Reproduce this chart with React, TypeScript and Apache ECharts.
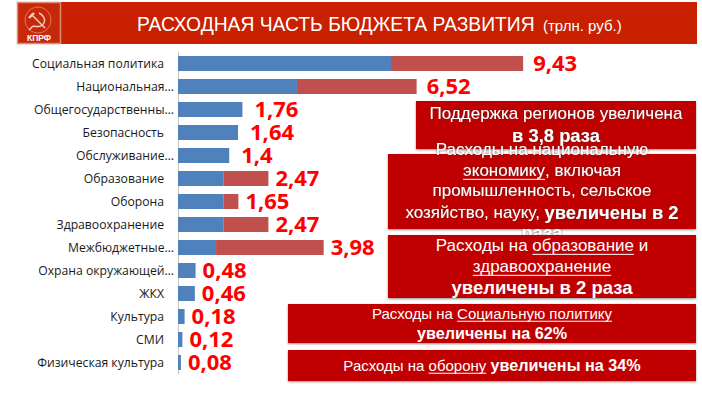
import React, { useEffect, useRef } from "react";
import * as echarts from "echarts";

const categories = ["Социальная политика","Национальная…","Общегосударственны…","Безопасность","Обслуживание…","Образование","Оборона","Здравоохранение","Межбюджетные…","Охрана окружающей…","ЖКХ","Культура","СМИ","Физическая культура"];
const totals = [9.43,6.52,1.76,1.64,1.4,2.47,1.65,2.47,3.98,0.48,0.46,0.18,0.12,0.08];
const blue = [5.82,3.25,1.76,1.64,1.4,1.25,1.25,1.25,1.04,0.48,0.46,0.18,0.12,0.08];
const red = [3.61,3.27,0,0,0,1.22,0.4,1.22,2.94,0,0,0,0,0];
const titleMain = "РАСХОДНАЯ ЧАСТЬ БЮДЖЕТА РАЗВИТИЯ";
const titleUnit = "(трлн. руб.)";

type Seg = { t: string; b?: boolean; u?: boolean };
const sans = "'Liberation Sans', Arial, sans-serif";
const boxes: { x: number; y: number; w: number; h: number; cx: number; size: number; bold: number; shadow?: boolean; lines: [number, Seg[]][] }[] = [
  { x: 416, y: 101, w: 280, h: 48, cx: 556, size: 17, bold: 18.4, shadow: true, lines: [
    [113, [{ t: "Поддержка регионов увеличена" }]],
    [135, [{ t: "в 3,8 раза", b: true }]],
  ] },
  { x: 388, y: 154, w: 308, h: 75, cx: 542, size: 17, bold: 18.4, shadow: true, lines: [
    [149, [{ t: "Расходы на национальную" }]],
    [170, [{ t: "экономику", u: true }, { t: ", включая" }]],
    [190, [{ t: "промышленность, сельское" }]],
    [212, [{ t: "хозяйство, науку, " }, { t: "увеличены в 2", b: true }]],
    [232, [{ t: "раза", b: true }]],
  ] },
  { x: 388, y: 235, w: 308, h: 63, cx: 542, size: 17, bold: 18.5, lines: [
    [245, [{ t: "Расходы на " }, { t: "образование", u: true }, { t: " и" }]],
    [266, [{ t: "здравоохранение", u: true }]],
    [287, [{ t: "увеличены в 2 раза", b: true }]],
  ] },
  { x: 288, y: 304, w: 408, h: 39, cx: 492, size: 15, bold: 16.2, lines: [
    [313, [{ t: "Расходы на " }, { t: "Социальную политику", u: true }]],
    [333, [{ t: "увеличены на 62%", b: true }]],
  ] },
  { x: 288, y: 350, w: 408, h: 31, cx: 492, size: 15, bold: 16.2, lines: [
    [365, [{ t: "Расходы на " }, { t: "оборону", u: true }, { t: " " }, { t: "увеличены на 34%", b: true }]],
  ] },
];

function buildBoxes() {
  const ctx = document.createElement("canvas").getContext("2d")!;
  const out: any[] = [];
  boxes.forEach((box) => {
    out.push({ type: "rect", shape: { x: box.x, y: box.y, width: box.w, height: box.h }, style: { fill: "#c00000", shadowColor: "rgba(0,0,0,0.45)", shadowBlur: 2, shadowOffsetY: 1 } });
    box.lines.forEach(([y, segs]) => {
      const fonts = segs.map((s) => `${s.b ? "bold " : ""}${s.b ? box.bold : box.size}px 'Liberation Sans'`);
      const widths = segs.map((s, i) => { ctx.font = fonts[i]; return ctx.measureText(s.t).width; });
      let x = box.cx - widths.reduce((a, b) => a + b, 0) / 2;
      segs.forEach((s, i) => {
        out.push({ type: "text", x, y, style: { text: s.t, font: fonts[i], fill: "#fff", textAlign: "left", textVerticalAlign: "middle", ...(box.shadow ? { textShadowColor: "rgba(60,40,40,0.8)", textShadowBlur: 2 } : {}) } });
        if (s.u) out.push({ type: "line", shape: { x1: x, y1: y + box.size * 0.55, x2: x + widths[i], y2: y + box.size * 0.55 }, style: { stroke: "#fff", lineWidth: 1 } });
        x += widths[i];
      });
    });
  });
  return out;
}

function logo() {
  const s = { stroke: "#f3d2c4", fill: "none", lineWidth: 1.4 };
  return [
    { type: "rect", shape: { x: 17.5, y: 2.5, width: 43, height: 41 }, style: { fill: "#c8280a", stroke: "#d98c72", lineWidth: 1.5 } },
    { type: "circle", shape: { cx: 38, cy: 20, r: 13 }, style: { stroke: "#e07a5c", fill: "none", lineWidth: 1 } },
    { type: "line", shape: { x1: 31, y1: 14, x2: 45, y2: 28 }, style: s },
    { type: "line", shape: { x1: 29, y1: 18, x2: 34, y2: 13 }, style: { ...s, lineWidth: 2.4 } },
    { type: "bezierCurve", shape: { x1: 39, y1: 13, cpx1: 48, cpy1: 17, cpx2: 46, cpy2: 29, x2: 33, y2: 26 }, style: s },
    { type: "line", shape: { x1: 33, y1: 26, x2: 29, y2: 30 }, style: s },
    { type: "text", x: 39, y: 37.5, style: { text: "КПРФ", font: "bold 8.5px 'Liberation Sans'", fill: "#fff", textAlign: "center", textVerticalAlign: "middle" } },
  ];
}

export default function App() {
  const ref = useRef<HTMLDivElement>(null);
  useEffect(() => {
    document.body.style.margin = "0";
    const chart = echarts.init(ref.current!, undefined, { renderer: "svg" });
    const fmt = (i: number) => String(totals[i]).replace(".", ",");
    const labelStyle = { show: true, position: "right", offset: [0, -2], color: "#ff0000", fontFamily: "'Noto Sans'", fontWeight: "bold", fontSize: 22 };
    const catFont = { fontFamily: "'Open Sans'", fontSize: 12.2, color: "#1a1a1a" };
    chart.setOption({
      animation: false,
      backgroundColor: "#fff",
      grid: { left: 178, top: 52, width: 366, height: 322 },
      xAxis: { type: "value", min: 0, max: 10, show: false },
      yAxis: {
        type: "category", inverse: true, data: categories,
        axisLine: { lineStyle: { color: "#c8c4c0" } },
        axisTick: { length: 4, lineStyle: { color: "#d8c8b4" } },
        axisLabel: {
          interval: 0, margin: 4,
          formatter: (v: string) => (v.endsWith("…") ? `{t|${v}}` : `{f|${v}}`),
          rich: { t: { ...catFont }, f: { ...catFont, padding: [0, 10, 0, 0] } },
        },
      },
      series: [
        { type: "bar", stack: "b", barWidth: 15, data: blue, itemStyle: { color: "#4f81bd" } },
        {
          type: "bar", stack: "b", barWidth: 15, itemStyle: { color: "#c0504d" },
          data: red.map((v, i) => ({ value: v, label: { ...labelStyle, distance: totals[i] > 5 ? 10 : v === 0 && totals[i] >= 1 ? 12 : 7, formatter: () => fmt(i) } })),
        },
      ],
      graphic: [
        { type: "rect", shape: { x: 17, y: 2, width: 680, height: 42 }, style: { fill: "#c82000" } },
        ...logo(),
        { type: "text", x: 137, y: 24, style: { text: titleMain, font: `19.3px ${sans}`, fill: "#fff", textVerticalAlign: "middle" } },
        { type: "text", x: 543, y: 25, style: { text: titleUnit, font: `15px ${sans}`, fill: "#fff", textVerticalAlign: "middle" } },
        ...buildBoxes(),
      ],
    });
    return () => chart.dispose();
  }, []);
  return <div ref={ref} style={{ width: 702, height: 396 }} />;
}
